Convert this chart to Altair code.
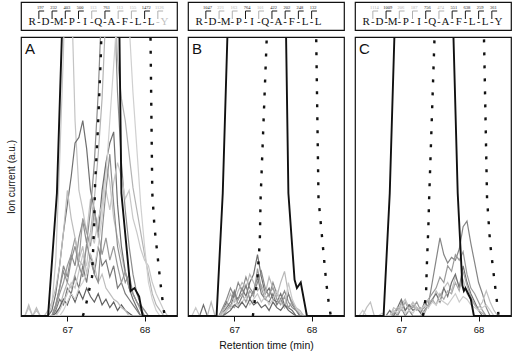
import altair as alt
import pandas as pd

# ---------------- time grid (min) for fragment traces ----------------
T = [66.45, 66.50, 66.55, 66.60, 66.65, 66.70, 66.75, 66.80, 66.85, 66.90, 66.95,
     67.00, 67.05, 67.10, 67.15, 67.20, 67.25, 67.30, 67.35, 67.40, 67.45,
     67.50, 67.55, 67.60, 67.65, 67.70, 67.75, 67.80, 67.85, 67.90, 67.95,
     68.00, 68.05, 68.10, 68.15, 68.20, 68.25, 68.30, 68.35]

# ---------------- Panel A fragment traces ----------------
A1 = [0,3,0,2,0,0,0,4,20,55,95, 150,120,70,45,38,30,42,35,28,40,55,48,35,28,22,15,12,8,5,3, 2,0,0,0,0,0,0,0]
A2 = [0,0,0,0,0,0,0,2,8,18,30, 40,50,62,64,70,60,45,38,30,45,55,62,66,40,25,16,10,6,3,0, 0,0,0,0,0,0,0,0]
A3 = [0,0,0,0,0,0,0,0,4,10,18, 14,22,18,28,34,26,38,55,80,115,150,160,120,80,55,38,25,15,8,4, 2,0,0,0,0,0,0,0]
A4 = [0,0,0,0,0,0,0,0,0,3,8, 12,10,15,20,18,25,30,42,58,78,110,140,125,92,78,70,58,46,38,30, 22,15,8,4,2,0,0,0]
A5 = [0,0,0,0,0,0,0,0,2,6,4, 10,8,14,10,18,12,22,15,25,18,20,14,18,10,12,8,6,4,2,0, 0,0,0,0,0,0,0,0]
A6 = [0,0,0,0,0,0,0,0,3,8,12, 18,22,28,20,35,30,25,38,30,22,28,20,25,18,12,16,10,8,5,2, 0,0,0,0,0,0,0,0]
A7 = [0,0,0,0,0,0,0,0,1,3,6, 4,8,5,9,6,10,7,5,8,4,6,3,5,2,4,2,1,0,0,0, 0,0,0,0,0,0,0,0]
A8 = [0,0,0,0,0,0,0,0,0,2,5, 8,12,10,16,22,18,30,26,35,40,45,38,48,55,50,42,45,35,30,24, 20,18,12,8,5,2,0,0]
A9 = [0,4,0,3,0,0,2,5,10,18,30, 45,35,28,20,25,15,22,18,12,15,10,8,6,5,3,2,0,0,0,0, 0,0,0,0,0,0,0,0]
A10 = [0,0,0,0,0,0,0,0,4,10,16, 12,20,25,18,14,26,20,15,12,30,45,58,40,25,18,12,15,8,5,3, 0,0,0,0,0,0,0,0]
A11 = [0,0,0,0,0,0,0,0,0,0,2, 5,8,6,10,12,15,20,18,25,35,50,70,90,110,120,130,105,80,60,40, 25,12,6,2,0,0,0,0]
A_GREY = [A1, A2, A3, A4, A5, A6, A7, A8, A9, A10, A11]
A_SHADES = ["#c4c4c4", "#6f6f6f", "#8c8c8c", "#b4b4b4", "#7a7a7a", "#999999",
            "#606060", "#c8c8c8", "#bdbdbd", "#8f8f8f", "#d0d0d0"]

# ---------------- Panel B fragment traces ----------------
B1 = [0,0,0,4,0,0,0,0,2,5,3, 8,6,10,7,12,15,22,14,8,10,6,5,8,4,3,2,0,0,0,0, 0,0,0,0,0,0,0,0]
B2 = [0,0,0,0,0,0,0,0,3,6,10, 7,12,9,14,10,8,12,16,10,7,12,8,6,9,5,3,2,0,0,0, 0,0,0,0,0,0,0,0]
B3 = [0,0,0,0,0,5,0,0,2,4,8, 5,9,12,10,15,12,9,11,8,14,10,7,12,16,8,5,3,2,0,0, 0,0,0,0,0,0,0,0]
B4 = [0,0,0,0,0,0,0,0,1,3,5, 9,4,7,11,6,9,14,8,6,5,8,4,6,3,8,4,2,0,0,0, 0,0,0,0,0,0,0,0]
B5 = [0,0,0,0,0,0,0,0,0,2,4, 3,6,8,5,9,7,17,10,6,8,10,6,4,7,3,5,2,1,0,0, 0,0,0,0,0,0,0,0]
B6 = [0,3,0,0,0,0,0,0,1,2,3, 6,4,5,7,4,6,8,5,7,4,6,9,5,3,12,6,3,1,0,0, 0,0,0,0,0,0,0,0]
B7 = [0,0,0,0,0,0,0,0,0,1,2, 4,3,5,3,6,4,5,3,4,2,5,3,2,4,2,1,0,0,0,0, 0,0,0,0,0,0,0,0]
B_GREY = [B1, B2, B3, B4, B5, B6, B7]
B_SHADES = ["#6e6e6e", "#8a8a8a", "#b8b8b8", "#7c7c7c", "#9c9c9c", "#c8c8c8", "#666666"]

# ---------------- Panel C fragment traces ----------------
C1 = [0,0,0,0,0,0,0,0,0,0,0, 3,0,2,0,0,0,2,4,12,20,28,22,19,21,20,24,32,34,26,19, 12,8,3,0,0,0,0,0]
C2 = [0,0,0,0,0,0,0,0,0,2,0, 5,2,4,3,5,2,3,6,8,10,14,12,18,16,22,20,23,15,10,8, 5,2,0,0,0,0,0,0]
C3 = [0,0,3,5,0,0,0,0,0,3,2, 4,6,3,5,3,2,4,6,5,9,7,10,12,9,14,11,13,8,6,4, 3,5,9,5,2,0,0,0]
C4 = [0,0,0,0,0,0,0,0,2,0,3, 6,2,4,2,3,1,5,3,6,8,5,10,7,12,15,10,18,12,8,5, 2,0,0,0,0,0,0,0]
C5 = [0,0,0,0,0,0,0,0,0,1,3, 2,5,2,4,2,3,1,4,6,4,8,6,9,8,12,9,16,11,7,4, 2,1,0,0,0,0,0,0]
C6 = [0,2,0,0,0,0,1,0,0,2,1, 3,1,2,1,3,2,4,3,5,4,6,5,4,6,8,5,7,6,4,3, 2,3,4,2,0,0,0,0]
C_GREY = [C1, C2, C3, C4, C5, C6]
C_SHADES = ["#858585", "#9a9a9a", "#c0c0c0", "#707070", "#aaaaaa", "#cccccc"]

# ---------------- black solid and dotted traces ----------------
A_SOLID_T = [66.40, 66.75, 66.865, 66.93, 66.96, 67.64, 67.675, 67.70, 67.82, 67.87, 67.93, 67.975, 68.42]
A_SOLID_V = [0, 0, 44, 101, 140, 140, 100, 44, 9, 10, 7, 0, 0]
A_DOT_T = [67.20, 67.226, 67.32, 67.346, 67.359, 67.397, 67.436, 67.46, 68.05, 68.077, 68.10, 68.128, 68.205, 68.244, 68.26]
A_DOT_V = [0, 2, 14, 32, 47, 68, 95, 130, 130, 100, 44, 32, 12, 3, 0]

B_SOLID_T = [66.40, 66.77, 66.85, 66.91, 66.94, 67.63, 67.67, 67.70, 67.78, 67.81, 67.86, 67.90, 67.94, 68.42]
B_SOLID_V = [0, 0, 44, 100, 140, 140, 100, 44, 13, 10, 12, 6, 0, 0]
B_DOT_T = [67.24, 67.256, 67.30, 67.33, 67.34, 67.42, 67.45, 68.03, 68.06, 68.09, 68.14, 68.19, 68.23, 68.25]
B_DOT_V = [0, 3.6, 14, 27, 42, 100, 130, 130, 100, 42, 27, 12, 3, 0]

C_SOLID_T = [66.40, 66.77, 66.85, 66.91, 66.94, 67.64, 67.675, 67.73, 67.79, 67.81, 67.83, 67.90, 67.94, 68.42]
C_SOLID_V = [0, 0, 44, 100, 140, 140, 100, 44, 11, 9, 10, 6, 0, 0]
C_DOT_T = [67.28, 67.30, 67.32, 67.33, 67.35, 67.36, 67.43, 67.46, 68.04, 68.07, 68.11, 68.15, 68.20, 68.24, 68.26]
C_DOT_V = [0, 3, 8, 18, 32, 42, 100, 130, 130, 100, 42, 26, 14, 4.7, 0]

# ---------------- sequence headers ----------------
A_LETTERS = ["R", "D", "M", "P", "I", "Q", "A", "F", "L", "L", "Y"]
A_LETTER_SHADE = ["k", "k", "k", "k", "k", "k", "k", "k", "k", "k", "g"]
A_IONS = ["197", "232", "403", "500", "113", "761", "113", "155", "1472", "1126"]
A_ION_SHADE = ["k", "k", "k", "k", "g", "k", "g", "g", "k", "g"]

B_LETTERS = ["R", "D", "M", "P", "I", "Q", "A", "F", "L", "L"]
B_LETTER_SHADE = ["k"] * 10
B_IONS = ["1047", "221", "163", "764", "101", "422", "202", "248", "132"]
B_ION_SHADE = ["k", "g", "g", "k", "g", "k", "k", "k", "k"]

C_LETTERS = ["R", "D", "M", "P", "I", "Q", "A", "F", "L", "L", "Y"]
C_LETTER_SHADE = ["k"] * 11
C_IONS = ["1114", "1009", "206", "187", "756", "474", "551", "638", "259", "361"]
C_ION_SHADE = ["g", "k", "g", "g", "k", "g", "k", "k", "k", "k"]

SHADE = {"k": "#1a1a1a", "g": "#b0b0b0"}
LETTER_SHADE = {"k": "#111111", "g": "#c0c0c0"}

W, H, HH = 156, 279, 28


def header(letters, letter_shade, ions, ion_shade):
    n = len(letters)
    let_df = pd.DataFrame({"pos": list(range(n)), "ch": letters,
                           "col": [LETTER_SHADE[s] for s in letter_shade]})
    dash_df = pd.DataFrame({"pos": [i + 0.5 for i in range(n - 1)], "ch": ["-"] * (n - 1),
                            "col": [LETTER_SHADE[letter_shade[i + 1]] for i in range(n - 1)]})
    ion_df = pd.DataFrame({"pos": [i + 0.5 for i in range(len(ions))],
                           "pos2": [i + 0.9 for i in range(len(ions))],
                           "mid": [i + 0.62 for i in range(len(ions))],
                           "lab": ions, "col": [SHADE[s] for s in ion_shade]})
    xs = alt.Scale(domain=[-0.85, 10.95], nice=False, zero=False)
    col = alt.Color("col:N", scale=None)
    letters_l = alt.Chart(let_df).mark_text(font="Liberation Serif", fontSize=11,
                                            baseline="alphabetic").encode(
        x=alt.X("pos:Q", scale=xs, axis=None), y=alt.value(22.5), text="ch:N", color=col)
    dash_l = alt.Chart(dash_df).mark_text(font="Liberation Serif", fontSize=11,
                                          baseline="alphabetic").encode(
        x=alt.X("pos:Q", scale=xs, axis=None), y=alt.value(22.5), text="ch:N", color=col)
    vrule = alt.Chart(ion_df).mark_rule(strokeWidth=1).encode(
        x=alt.X("pos:Q", scale=xs, axis=None), y=alt.value(9), y2=alt.value(17), color=col)
    hrule = alt.Chart(ion_df).mark_rule(strokeWidth=1).encode(
        x=alt.X("pos:Q", scale=xs, axis=None), x2="pos2:Q", y=alt.value(9), color=col)
    nums = alt.Chart(ion_df).mark_text(font="Liberation Serif", fontSize=4.5,
                                       baseline="middle").encode(
        x=alt.X("mid:Q", scale=xs, axis=None), y=alt.value(5.5), text="lab:N", color=col)
    return alt.layer(vrule, hrule, letters_l, dash_l, nums).properties(width=W, height=HH)


def panel(name, grey, shades, st, sv, dt, dv, show_y, xtitle):
    rows = []
    for k, (vals, c) in enumerate(zip(grey, shades)):
        for t, v in zip(T, vals):
            rows.append({"s": f"{name}{k}", "t": t, "v": v, "col": c})
    gdf = pd.DataFrame(rows)
    sdf = pd.DataFrame({"t": st, "v": sv})
    ddf = pd.DataFrame({"t": dt, "v": dv})

    xs = alt.Scale(domain=[66.4, 68.42], nice=False, zero=False)
    ys = alt.Scale(domain=[0, 100], nice=False, zero=False)
    xaxis_kw = dict(values=[67, 68], format="d", tickSize=5, ticks=True, domain=False,
                    grid=False, labelFontSize=9.5, labelPadding=3)
    if xtitle:
        xaxis_kw.update(title=xtitle, titleFontSize=10.5, titleFontWeight="normal", titlePadding=7)
    else:
        xaxis_kw.update(title=None)
    X = alt.X("t:Q", scale=xs, axis=alt.Axis(**xaxis_kw))
    if show_y:
        Y = alt.Y("v:Q", scale=ys, axis=alt.Axis(title="Ion current (a.u.)", labels=False,
                                                 ticks=False, domain=False, grid=False,
                                                 titleFontSize=10, titleFontWeight="normal",
                                                 titlePadding=5))
    else:
        Y = alt.Y("v:Q", scale=ys, axis=None)

    grey_l = alt.Chart(gdf).mark_line(clip=True, strokeWidth=1.2).encode(
        x=X, y=Y, detail="s:N", color=alt.Color("col:N", scale=None), order="t:Q")
    solid_l = alt.Chart(sdf).mark_line(clip=True, strokeWidth=1.9, color="#111111").encode(
        x=X, y=Y, order="t:Q")
    dot_l = alt.Chart(ddf).mark_line(clip=True, strokeWidth=2.4, color="#111111",
                                     strokeDash=[3, 10]).encode(x=X, y=Y, order="t:Q")
    lab = alt.Chart(pd.DataFrame({"lab": [name]})).mark_text(
        fontSize=15, align="left", baseline="alphabetic", color="#111111").encode(
        x=alt.value(4), y=alt.value(17), text="lab:N")
    return alt.layer(grey_l, solid_l, dot_l, lab).properties(width=W, height=H)


colA = alt.vconcat(header(A_LETTERS, A_LETTER_SHADE, A_IONS, A_ION_SHADE),
                   panel("A", A_GREY, A_SHADES, A_SOLID_T, A_SOLID_V, A_DOT_T, A_DOT_V, True, None),
                   spacing=5).resolve_scale(x="independent", y="independent")
colB = alt.vconcat(header(B_LETTERS, B_LETTER_SHADE, B_IONS, B_ION_SHADE),
                   panel("B", B_GREY, B_SHADES, B_SOLID_T, B_SOLID_V, B_DOT_T, B_DOT_V, False,
                         "Retention time (min)"),
                   spacing=5).resolve_scale(x="independent", y="independent")
colC = alt.vconcat(header(C_LETTERS, C_LETTER_SHADE, C_IONS, C_ION_SHADE),
                   panel("C", C_GREY, C_SHADES, C_SOLID_T, C_SOLID_V, C_DOT_T, C_DOT_V, False, None),
                   spacing=5).resolve_scale(x="independent", y="independent")

chart = alt.hconcat(colA, colB, colC, spacing=9).resolve_scale(
    x="independent", y="independent").properties(
    padding={"left": 5, "top": 1, "right": 1, "bottom": 1},
    background="white",
).configure_view(stroke="#111111", strokeWidth=1.2).configure_axis(
    labelColor="#111111", titleColor="#111111", tickColor="#111111",
    labelFont="Liberation Sans", titleFont="Liberation Sans",
).configure_text(font="Liberation Sans")

chart.save("out.html", embed_options={"renderer": "svg", "actions": False})
